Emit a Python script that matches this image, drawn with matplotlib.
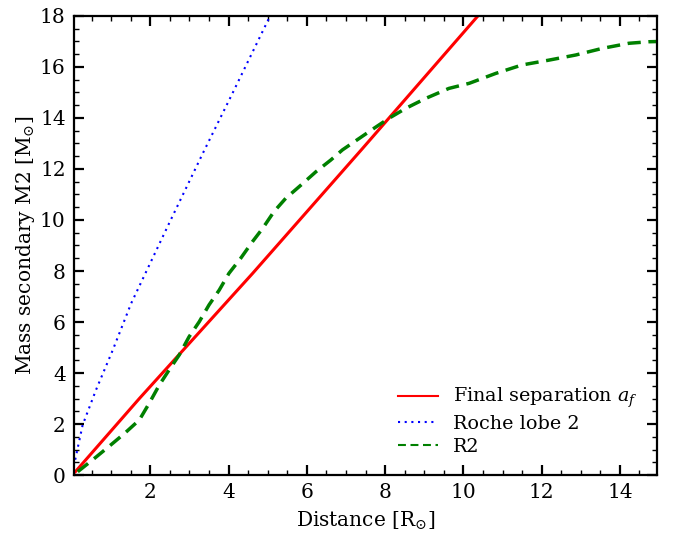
import numpy as np
import matplotlib
matplotlib.use('Agg')
import matplotlib.pyplot as plt
from matplotlib.ticker import MultipleLocator

plt.rcParams['font.family'] = ['DejaVu Serif']
plt.rcParams['mathtext.fontset'] = 'dejavuserif'

# Final separation a_f (distance, mass)
sep_dist = [0.085, 1.72, 4.61, 7.42, 10.37]
sep_mass = [0.13, 3.0, 7.9, 12.8, 18.0]

# Roche lobe 2
roche_dist = [0.08, 0.27, 0.61, 1.04, 1.51, 2.48, 3.34, 4.10, 5.01, 5.06]
roche_mass = [0.6, 1.96, 3.33, 4.9, 6.73, 9.87, 12.61, 14.97, 17.84, 18.0]

# R2
r2_dist = [0.145, 0.57, 0.99, 1.34, 1.72, 1.97, 2.23, 2.48, 2.74, 2.99, 3.25,
           3.50, 3.76, 4.01, 4.31, 4.61, 4.87, 5.16, 5.46, 5.85, 6.23, 6.61,
           6.91, 7.72, 8.10, 8.53, 9.04, 9.63, 10.15, 10.83, 11.50, 12.19,
           12.87, 13.55, 14.23, 14.74, 15.0]
r2_mass = [0.13, 0.65, 1.18, 1.63, 2.16, 2.81, 3.53, 4.12, 4.71, 5.42, 6.01,
           6.67, 7.25, 7.91, 8.50, 9.15, 9.67, 10.33, 10.85, 11.37, 11.89, 12.35,
           12.75, 13.6, 13.99, 14.38, 14.77, 15.16, 15.36, 15.75, 16.08, 16.27,
           16.47, 16.73, 16.93, 16.99, 17.0]

fig = plt.figure(figsize=(6.76, 5.33), dpi=100)
ax = fig.add_axes([0.1095, 0.1088, 0.8625, 0.8612])

ax.plot(sep_dist, sep_mass, color='r', lw=2.2, label=r'Final separation $a_f$')
ax.plot(roche_dist, roche_mass, color='b', lw=1.5, ls=(0, (1, 2.2)), label='Roche lobe 2')
ax.plot(r2_dist, r2_mass, color='g', lw=2.5, ls='--', dashes=(3.8, 2.2), label='R2')

ax.set_xlim(0.05, 14.95)
ax.set_ylim(0, 18)
ax.xaxis.set_major_locator(MultipleLocator(2))
ax.xaxis.set_minor_locator(MultipleLocator(0.5))
ax.yaxis.set_major_locator(MultipleLocator(2))
ax.yaxis.set_minor_locator(MultipleLocator(0.5))

ax.tick_params(which='both', direction='in', top=True, right=True, labelsize=14.5, pad=6)
ax.tick_params(which='major', length=7, width=1.6)
ax.tick_params(which='minor', length=3.5, width=1)
for s in ax.spines.values():
    s.set_linewidth(1.6)

ax.set_xlabel(r'Distance [$\mathrm{R}_{\odot}$]', fontsize=14.5, labelpad=5)
ax.set_ylabel(r'Mass secondary M2 [$\mathrm{M}_{\odot}$]', fontsize=14.5, labelpad=2)

leg = ax.legend(loc='lower right', frameon=False, fontsize=13.8, handlelength=2.1,
                handletextpad=0.8, labelspacing=0.25, borderaxespad=0.6)
for h in leg.get_lines():
    h.set_linewidth(1.5)

fig.savefig('out.png', dpi=100)
